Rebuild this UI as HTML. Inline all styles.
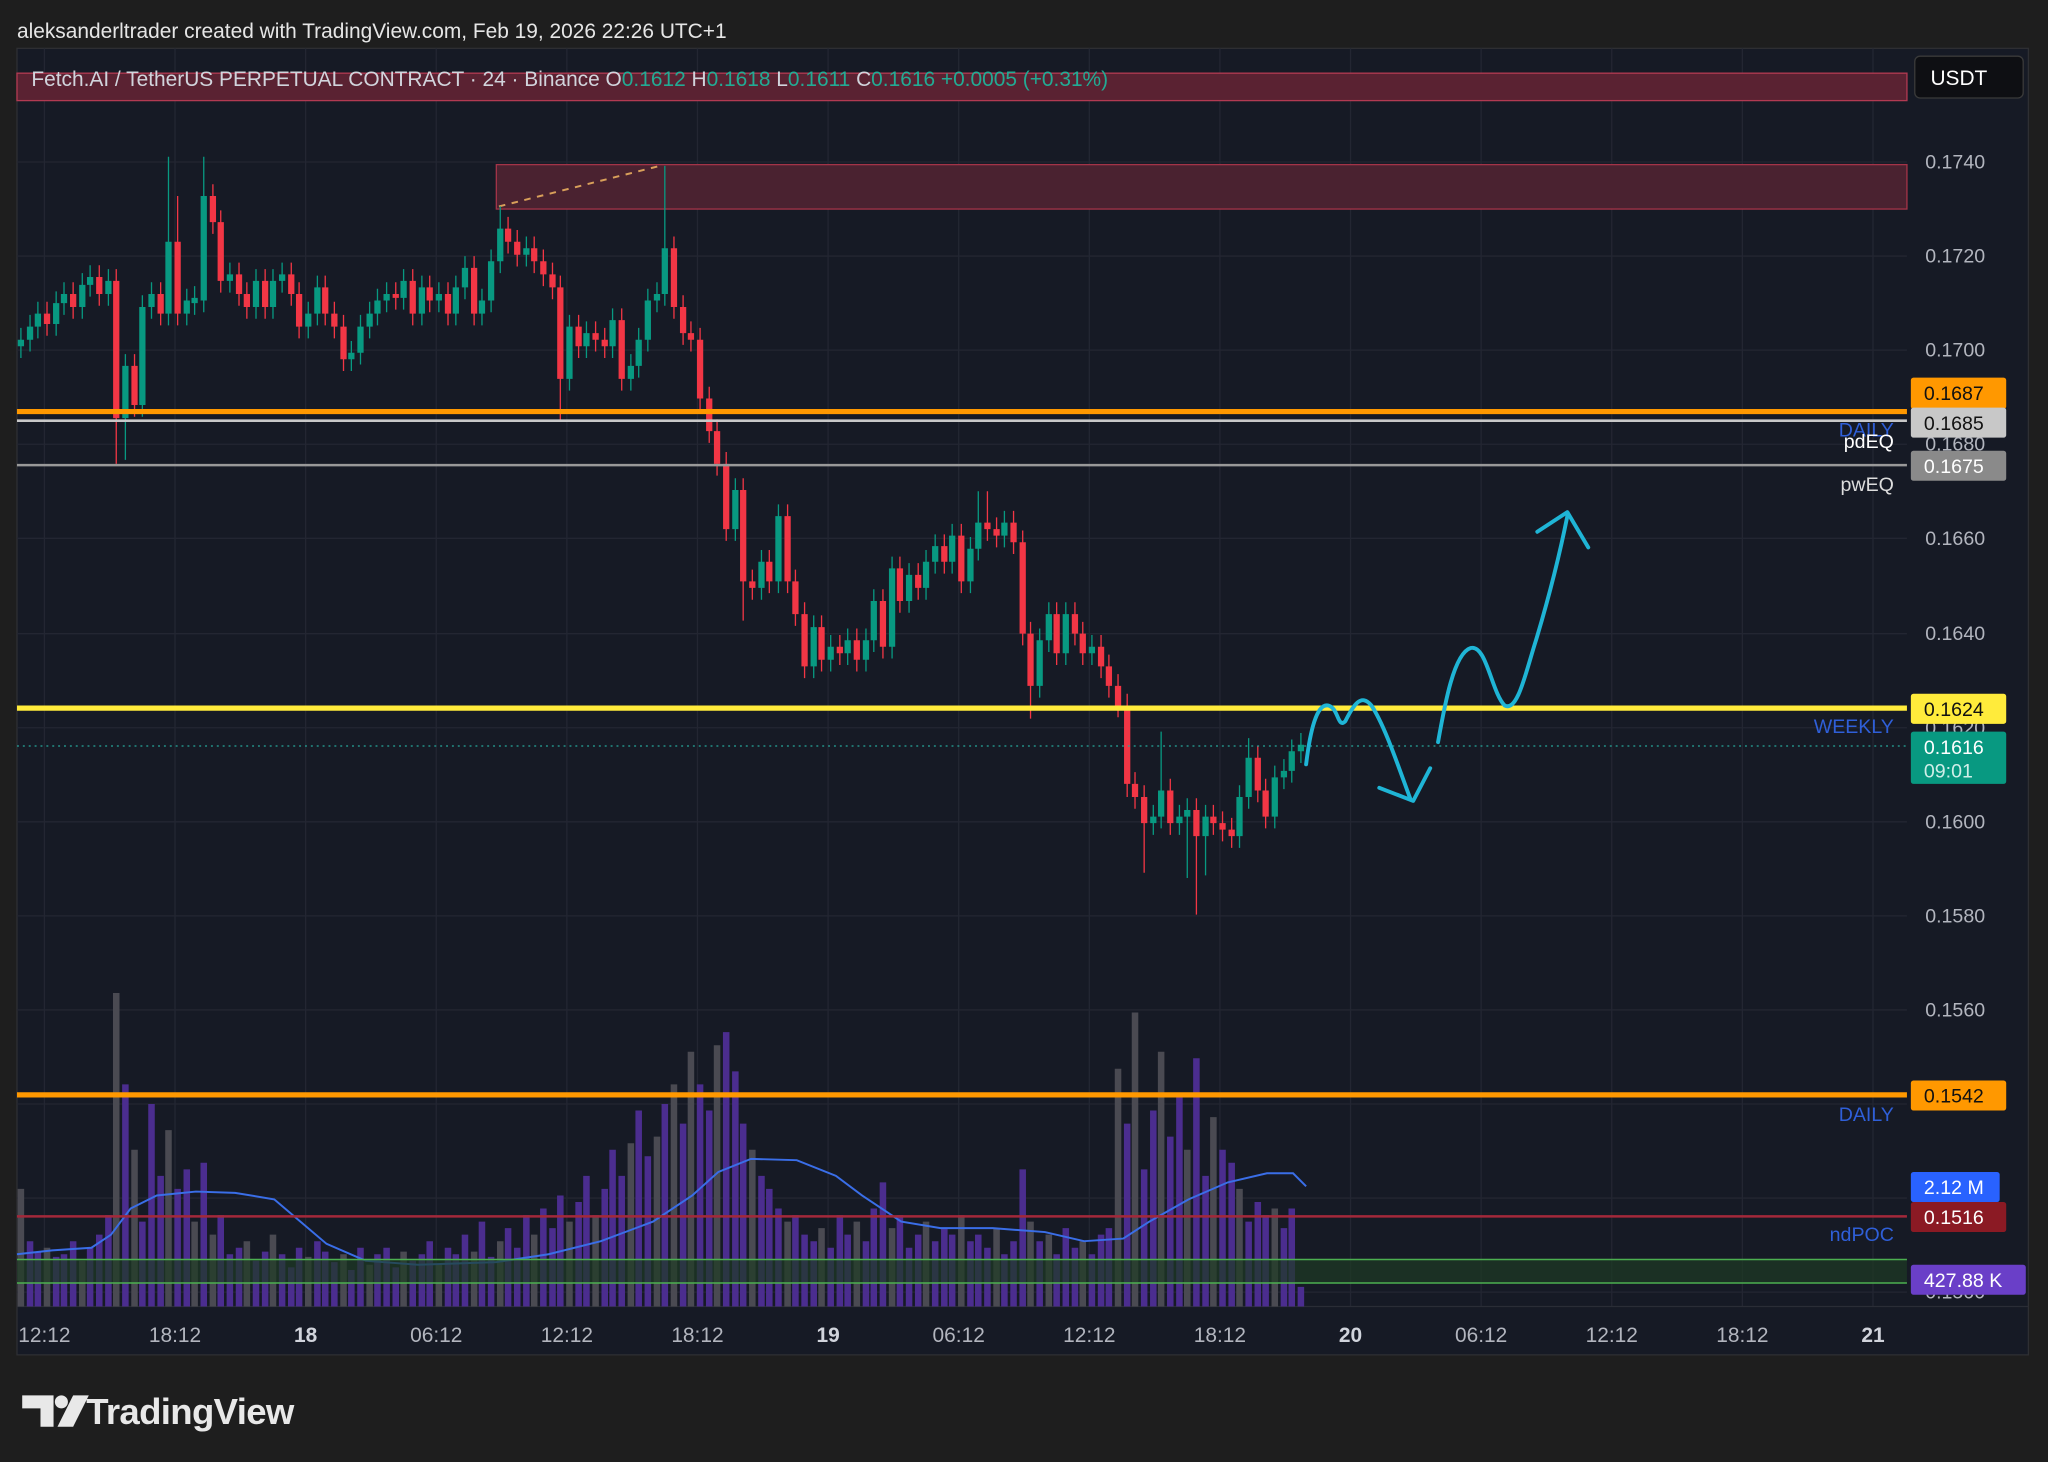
<!DOCTYPE html>
<html><head><meta charset="utf-8"><style>
html,body{margin:0;padding:0;background:#1e1e1e;overflow:hidden}
svg{display:block}
text{font-family:"Liberation Sans",sans-serif}
</style></head><body>
<svg width="2048" height="1462" viewBox="0 0 1568 1119" preserveAspectRatio="none" xmlns="http://www.w3.org/2000/svg">
<rect width="1568" height="1119" fill="#1e1e1e"/>
<text x="13" y="29" font-size="16" fill="#e6e6e6">aleksanderltrader created with TradingView.com, Feb 19, 2026 22:26 UTC+1</text>
<rect x="13" y="37" width="1540" height="1000" fill="#161a25" stroke="#2e2f33" stroke-width="1"/>
<g stroke="#232632" stroke-width="1">
<path d="M13 124H1460M13 196H1460M13 268H1460M13 340H1460M13 412H1460M13 485H1460M13 557H1460M13 629H1460M13 701H1460M13 773H1460M13 845H1460M13 917H1460M13 989H1460"/>
<path d="M34 37V1000M134 37V1000M234 37V1000M334 37V1000M434 37V1000M534 37V1000M634 37V1000M734 37V1000M834 37V1000M934 37V1000M1034 37V1000M1134 37V1000M1234 37V1000M1334 37V1000M1434 37V1000"/>
<path d="M13 1000H1553" stroke="#2a2d36"/>
</g>
<rect x="13" y="56" width="1447" height="21" fill="#5a2232" stroke="#b23a52" stroke-width="1"/>
<rect x="380" y="126" width="1080" height="34" fill="#4a2230" stroke="#a33448" stroke-width="1"/>
<line x1="382" y1="158" x2="505" y2="127" stroke="#d9a05a" stroke-width="1.5" stroke-dasharray="5,5"/>
<!-- volume -->
<path stroke="#4b2d8f" stroke-width="5" fill="none" d="M23 1000V950M29 1000V958M43 1000V962M49 1000V960M56 1000V950M69 1000V955M76 1000V945M83 1000V930M96 1000V830M109 1000V935M116 1000V845M123 1000V900M136 1000V910M143 1000V895M156 1000V890M169 1000V930M176 1000V960M183 1000V955M196 1000V965M203 1000V958M216 1000V960M223 1000V970M229 1000V955M243 1000V950M249 1000V958M256 1000V966M269 1000V972M276 1000V955M289 1000V960M296 1000V955M303 1000V970M316 1000V965M323 1000V960M329 1000V950M343 1000V955M349 1000V960M356 1000V945M369 1000V935M376 1000V962M389 1000V940M396 1000V955M403 1000V930M416 1000V925M423 1000V940M429 1000V915M443 1000V920M449 1000V900M463 1000V910M469 1000V880M476 1000V900M489 1000V850M496 1000V885M509 1000V845M523 1000V860M536 1000V830M543 1000V850M556 1000V790M563 1000V820M569 1000V860M583 1000V900M589 1000V910M596 1000V925M609 1000V930M616 1000V945M623 1000V950M636 1000V955M643 1000V930M649 1000V945M663 1000V950M669 1000V925M676 1000V905M689 1000V930M696 1000V955M703 1000V945M716 1000V950M723 1000V940M729 1000V945M743 1000V950M749 1000V945M756 1000V955M769 1000V960M776 1000V950M783 1000V895M796 1000V950M809 1000V960M816 1000V940M823 1000V955M836 1000V960M843 1000V945M849 1000V940M863 1000V860M876 1000V895M883 1000V850M896 1000V870M903 1000V840M916 1000V810M923 1000V900M936 1000V880M943 1000V890M956 1000V935M963 1000V920M969 1000V930M983 1000V940M989 1000V925M996 1000V985"/>
<path stroke="#4a4a52" stroke-width="5" fill="none" d="M16 1000V910M36 1000V955M63 1000V965M89 1000V760M103 1000V880M129 1000V865M149 1000V935M163 1000V945M189 1000V950M209 1000V945M236 1000V962M263 1000V960M283 1000V968M309 1000V958M336 1000V968M363 1000V958M383 1000V950M409 1000V945M436 1000V935M456 1000V930M483 1000V875M503 1000V870M516 1000V830M529 1000V805M549 1000V800M576 1000V880M603 1000V935M629 1000V940M656 1000V935M683 1000V940M709 1000V935M736 1000V930M763 1000V940M789 1000V935M803 1000V945M829 1000V950M856 1000V818M869 1000V775M889 1000V805M909 1000V880M929 1000V855M949 1000V910M976 1000V925"/>
<polyline fill="none" stroke="#3a6ee8" stroke-width="1.5" points="13,960 40,957 70,955 85,945 100,925 120,915 150,912 180,913 210,918 230,935 250,952 280,965 320,968 380,966 420,960 460,950 500,935 530,915 550,897 575,887 610,888 640,900 660,915 690,935 720,940 760,940 800,943 830,950 860,948 880,935 910,918 940,905 970,898 990,898 1000,908"/>
<rect x="13" y="964" width="1447" height="18" fill="#1e3a24" opacity="0.7"/>
<line x1="13" y1="964" x2="1460" y2="964" stroke="#4caf50" stroke-width="1.2"/>
<line x1="13" y1="982" x2="1460" y2="982" stroke="#4caf50" stroke-width="1.2"/>
<line x1="13" y1="931" x2="1460" y2="931" stroke="#a3283a" stroke-width="2"/>
<!-- candles: wicks -->
<path stroke="#089981" stroke-width="1" fill="none" d="M16 251V274M23 241V269M29 231V259M43 223V257M49 216V241M63 209V244M69 203V227M83 206V234M96 271V352M109 226V319M116 216V244M129 120V249M143 221V249M149 219V241M156 120V239M176 201V224M196 206V244M209 206V244M216 201V224M236 231V259M243 211V249M269 261V284M276 241V279M283 231V259M289 221V249M296 216V239M309 206V237M323 211V249M336 216V239M349 211V249M356 196V229M369 221V249M376 191V239M383 158V209M403 181V204M436 241V299M449 246V274M469 236V274M483 271V299M489 251V289M496 221V269M503 216V239M509 127V234M563 366V414M583 421V459M596 386V454M623 471V519M636 486V514M649 481V509M663 481V514M669 451V499M683 426V504M696 431V469M709 421V459M716 409V439M729 401V439M743 411V454M749 376V429M769 391V419M796 481V534M803 461V499M816 461V509M836 486V509M883 616V639M889 560V634M903 616V639M909 611V672M923 616V670M949 601V649M956 565V619M976 586V634M983 581V604M989 566V599M996 561V584"/>
<path stroke="#f23645" stroke-width="1" fill="none" d="M36 231V257M56 216V244M76 203V234M89 206V355M103 271V319M123 216V249M136 150V249M163 141V179M169 161V224M183 201V234M189 216V244M203 206V244M223 201V234M229 216V259M249 211V249M256 231V259M263 241V284M303 216V237M316 206V249M329 211V239M343 216V249M363 196V249M389 166V194M396 176V204M409 181V209M416 191V219M423 201V229M429 211V322M443 241V274M456 246V269M463 251V274M476 236V299M516 181V244M523 226V264M529 246V269M536 251V314M543 296V339M549 321V364M556 346V414M569 366V475M576 436V459M589 421V454M603 386V454M609 436V479M616 461V519M629 471V514M643 486V509M656 481V514M676 451V504M689 426V469M703 431V459M723 409V439M736 401V454M756 376V414M763 396V419M776 391V424M783 406V494M789 476V550M809 461V509M823 461V494M829 476V509M843 486V519M849 501V534M856 516V549M863 531V610M869 591V619M876 601V668M896 596V639M916 611V700M929 616V639M936 621V644M943 626V649M963 571V614M969 596V634"/>
<!-- green bodies -->
<path stroke="#089981" stroke-width="4.8" fill="none" d="M16 260V265M23 250V260M29 240V250M43 232V248M49 225V232M63 218V235M69 212V218M83 215V225M96 280V320M109 235V310M116 225V235M129 185V240M143 230V240M149 228V232M156 150V230M176 210V215M196 215V235M209 215V235M216 210V215M236 240V250M243 220V240M269 270V275M276 250V270M283 240V250M289 230V240M296 225V230M309 215V228M323 220V240M336 225V230M349 220V240M356 205V220M369 230V240M376 200V230M383 175V200M403 190V195M436 250V290M449 255V265M469 245V265M483 280V290M489 260V280M496 230V260M503 225V230M509 190V225M563 375V405M583 430V450M596 395V445M623 480V510M636 495V505M649 490V500M663 490V505M669 460V490M683 435V495M696 440V460M709 430V450M716 418V430M729 410V430M743 420V445M749 400V420M769 400V410M796 490V525M803 470V490M816 470V500M836 495V500M883 625V630M889 605V625M903 625V630M909 620V625M923 625V640M949 610V640M956 580V610M976 595V625M983 590V595M989 575V590M996 570V575"/>
<!-- red bodies -->
<path stroke="#f23645" stroke-width="4.8" fill="none" d="M36 240V248M56 225V235M76 212V225M89 215V320M103 280V310M123 225V240M136 185V240M163 150V170M169 170V215M183 210V225M189 225V235M203 215V235M223 210V225M229 225V250M249 220V240M256 240V250M263 250V275M303 225V228M316 215V240M329 220V230M343 225V240M363 205V240M389 175V185M396 185V195M409 190V200M416 200V210M423 210V220M429 220V290M443 250V265M456 255V260M463 260V265M476 245V290M516 190V235M523 235V255M529 255V260M536 260V305M543 305V330M549 330V355M556 355V405M569 375V445M576 445V450M589 430V445M603 395V445M609 445V470M616 470V510M629 480V505M643 495V500M656 490V505M676 460V495M689 435V460M703 440V450M723 418V430M736 410V445M756 400V405M763 405V410M776 400V415M783 415V485M789 485V525M809 470V500M823 470V485M829 485V500M843 495V510M849 510V525M856 525V540M863 540V600M869 600V610M876 610V630M896 605V630M916 620V640M929 625V630M936 630V635M943 635V640M963 580V605M969 605V625"/>
<!-- levels -->
<line x1="13" y1="315" x2="1460" y2="315" stroke="#ff9800" stroke-width="4"/>
<line x1="13" y1="322" x2="1460" y2="322" stroke="#c8c8c8" stroke-width="2"/>
<line x1="13" y1="356" x2="1460" y2="356" stroke="#999" stroke-width="2"/>
<line x1="13" y1="542" x2="1460" y2="542" stroke="#ffeb3b" stroke-width="4"/>
<line x1="13" y1="571" x2="1460" y2="571" stroke="#26a69a" stroke-width="1" stroke-dasharray="1.5,3"/>
<line x1="13" y1="838" x2="1460" y2="838" stroke="#ff9800" stroke-width="4"/>
<g fill="none" stroke="#1fb5d6" stroke-width="3" stroke-linecap="round" stroke-linejoin="round">
<path d="M1000,585 C1003,560 1008,538 1017,540 C1025,542 1024,558 1030,552 C1036,540 1042,530 1050,540 C1060,555 1070,585 1080,612"/>
<path d="M1056,603 L1082,613 L1095,588"/>
<path d="M1101,568 C1106,540 1113,500 1126,496 C1138,493 1142,530 1152,540 C1162,545 1168,515 1176,490 C1185,460 1193,430 1200,395"/>
<path d="M1177,407 L1200,392 L1216,419"/>
</g>
<g font-size="15" fill="#b2b5be">
<text x="1474" y="129">0.1740</text><text x="1474" y="201">0.1720</text><text x="1474" y="273">0.1700</text><text x="1474" y="345">0.1680</text><text x="1474" y="417">0.1660</text><text x="1474" y="490">0.1640</text><text x="1474" y="562">0.1620</text><text x="1474" y="634">0.1600</text><text x="1474" y="706">0.1580</text><text x="1474" y="778">0.1560</text><text x="1474" y="850">0.1540</text><text x="1474" y="994">0.1500</text>
</g>
<g font-size="15" text-anchor="end">
<text x="1450" y="334" fill="#2f5fd8">DAILY</text>
<text x="1450" y="343" fill="#fff">pdEQ</text>
<text x="1450" y="376" fill="#ddd">pwEQ</text>
<text x="1450" y="561" fill="#2f5fd8">WEEKLY</text>
<text x="1450" y="858" fill="#2f5fd8">DAILY</text>
<text x="1450" y="950" fill="#2f5fd8">ndPOC</text>
</g>
<g font-size="15">
<rect x="1463" y="289" width="73" height="24" rx="2" fill="#ff9800"/><text x="1473" y="306" fill="#111">0.1687</text>
<rect x="1463" y="312" width="73" height="23" rx="2" fill="#c8c8c8"/><text x="1473" y="329" fill="#111">0.1685</text>
<rect x="1463" y="345" width="73" height="23" rx="2" fill="#8a8a8a"/><text x="1473" y="362" fill="#fff">0.1675</text>
<rect x="1463" y="531" width="73" height="23" rx="2" fill="#ffeb3b"/><text x="1473" y="548" fill="#111">0.1624</text>
<rect x="1463" y="560" width="73" height="40" rx="2" fill="#089981"/><text x="1473" y="577" fill="#fff">0.1616</text><text x="1473" y="595" fill="#cfeee8">09:01</text>
<rect x="1463" y="827" width="73" height="23" rx="2" fill="#ff9800"/><text x="1473" y="844" fill="#111">0.1542</text>
<rect x="1463" y="897" width="68" height="23" rx="2" fill="#2962ff"/><text x="1473" y="914" fill="#fff">2.12 M</text>
<rect x="1463" y="920" width="73" height="23" rx="2" fill="#8b1a24"/><text x="1473" y="937" fill="#fff">0.1516</text>
<rect x="1463" y="968" width="88" height="23" rx="2" fill="#6a3fc8"/><text x="1473" y="985" fill="#fff">427.88 K</text>
</g>
<rect x="1466" y="43" width="83" height="32" rx="4" fill="#0e0f13" stroke="#3a3a3a"/>
<text x="1478" y="65" font-size="16" fill="#fff">USDT</text>
<text x="24" y="66" font-size="16" fill="#d1d4dc">Fetch.AI / TetherUS PERPETUAL CONTRACT · 24 · Binance  O<tspan fill="#22ab94">0.1612</tspan>  H<tspan fill="#22ab94">0.1618</tspan>  L<tspan fill="#22ab94">0.1611</tspan>  C<tspan fill="#22ab94">0.1616  +0.0005 (+0.31%)</tspan></text>
<g font-size="16" fill="#b2b5be" text-anchor="middle">
<text x="34" y="1027">12:12</text><text x="134" y="1027">18:12</text><text x="234" y="1027" font-weight="bold" fill="#d1d4dc">18</text><text x="334" y="1027">06:12</text><text x="434" y="1027">12:12</text><text x="534" y="1027">18:12</text><text x="634" y="1027" font-weight="bold" fill="#d1d4dc">19</text><text x="734" y="1027">06:12</text><text x="834" y="1027">12:12</text><text x="934" y="1027">18:12</text><text x="1034" y="1027" font-weight="bold" fill="#d1d4dc">20</text><text x="1134" y="1027">06:12</text><text x="1234" y="1027">12:12</text><text x="1334" y="1027">18:12</text><text x="1434" y="1027" font-weight="bold" fill="#d1d4dc">21</text>
</g>
<g fill="#e8e8e8">
<path d="M17,1068 h24 v24 h-10 v-14 h-14z"/>
<circle cx="47" cy="1073" r="5"/>
<path d="M44,1092 L56,1068 L68,1068 L56,1092z"/>
</g>
<text x="66" y="1090" font-size="28" font-weight="bold" fill="#e8e8e8" letter-spacing="-0.5">TradingView</text>
</svg>
</body></html>
